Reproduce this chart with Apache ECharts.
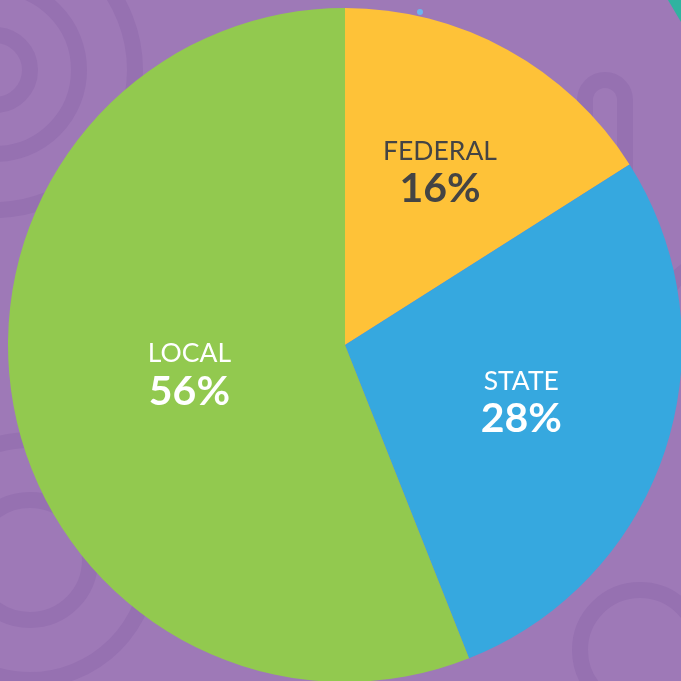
<!DOCTYPE html>
<html>
<head>
<meta charset="utf-8">
<script src="https://cdn.jsdelivr.net/npm/echarts@6/dist/echarts.min.js"></script>
<style>
html,body{margin:0;padding:0;background:#9E79B7;}
#c{width:681px;height:681px;}
</style>
</head>
<body>
<div id="c"></div>
<script>
// ---- data ----
const categories = ['FEDERAL', 'STATE', 'LOCAL'];
const values = [16, 28, 56];
const sliceColors = ['#FEC238', '#36A8DF', '#92C94F'];
const labelColors = ['#444444', '#FFFFFF', '#FFFFFF'];
const labelRadial = [0.585, 0.55, 0.47];

const CX = 345, CY = 345, R = 337;
const total = values.reduce((a, b) => a + b, 0);
const mids = [];
let acc = 0;
values.forEach(v => { mids.push((acc + v / 2) / total * 2 * Math.PI); acc += v; });

const ring = '#9671B1';
const bgGraphics = [
  {type:'circle', shape:{cx:-5, cy:70, r:35}, style:{fill:'none', stroke:ring, lineWidth:16}},
  {type:'circle', shape:{cx:-5, cy:70, r:84}, style:{fill:'none', stroke:ring, lineWidth:16}},
  {type:'circle', shape:{cx:-5, cy:70, r:140}, style:{fill:'none', stroke:ring, lineWidth:16}},
  {type:'circle', shape:{cx:640, cy:650, r:60}, style:{fill:'none', stroke:ring, lineWidth:16}},
  {type:'circle', shape:{cx:30, cy:560, r:60}, style:{fill:'none', stroke:ring, lineWidth:16}},
  {type:'circle', shape:{cx:30, cy:560, r:120}, style:{fill:'none', stroke:ring, lineWidth:16}},
  {type:'rect', shape:{x:585, y:80, width:40, height:120, r:20}, style:{fill:'none', stroke:ring, lineWidth:16}},
  {type:'circle', shape:{cx:720, cy:320, r:60}, style:{fill:'none', stroke:ring, lineWidth:16}},
  {type:'polygon', shape:{points:[[668,0],[681,0],[681,22]]}, style:{fill:'#2FB3A0'}},
  {type:'circle', shape:{cx:420, cy:12, r:3}, style:{fill:'#6CB4F0'}}
];

const chart = echarts.init(document.getElementById('c'));
chart.setOption({
  backgroundColor: '#9E79B7',
  animation: false,
  graphic: bgGraphics.map(g => Object.assign({z: -10, silent: true}, g)),
  series: [{
    type: 'pie',
    center: [CX, CY],
    radius: [0, R],
    startAngle: 90,
    clockwise: true,
    silent: true,
    z: 5,
    itemStyle: {borderWidth: 0},
    data: categories.map((c, i) => ({
      name: c,
      value: values[i],
      itemStyle: {color: sliceColors[i]},
      label: {color: labelColors[i]}
    })),
    label: {
      show: true,
      position: 'inside',
      fontFamily: 'Lato',
      formatter: p => '{a|' + p.name + '}\n{b|' + p.value + '%}',
      rich: {
        a: {fontSize: 26.5, fontFamily: 'Lato', fontWeight: 'normal', lineHeight: 34},
        b: {fontSize: 41, fontFamily: 'Lato', fontWeight: 'bold', lineHeight: 42}
      }
    },
    labelLine: {show: false},
    labelLayout: function (p) {
      const i = p.dataIndex;
      const a = mids[i];
      const r = R * labelRadial[i];
      return {
        x: CX + r * Math.sin(a),
        y: CY - r * Math.cos(a),
        align: 'center',
        verticalAlign: 'middle'
      };
    }
  }]
});
</script>
</body>
</html>
